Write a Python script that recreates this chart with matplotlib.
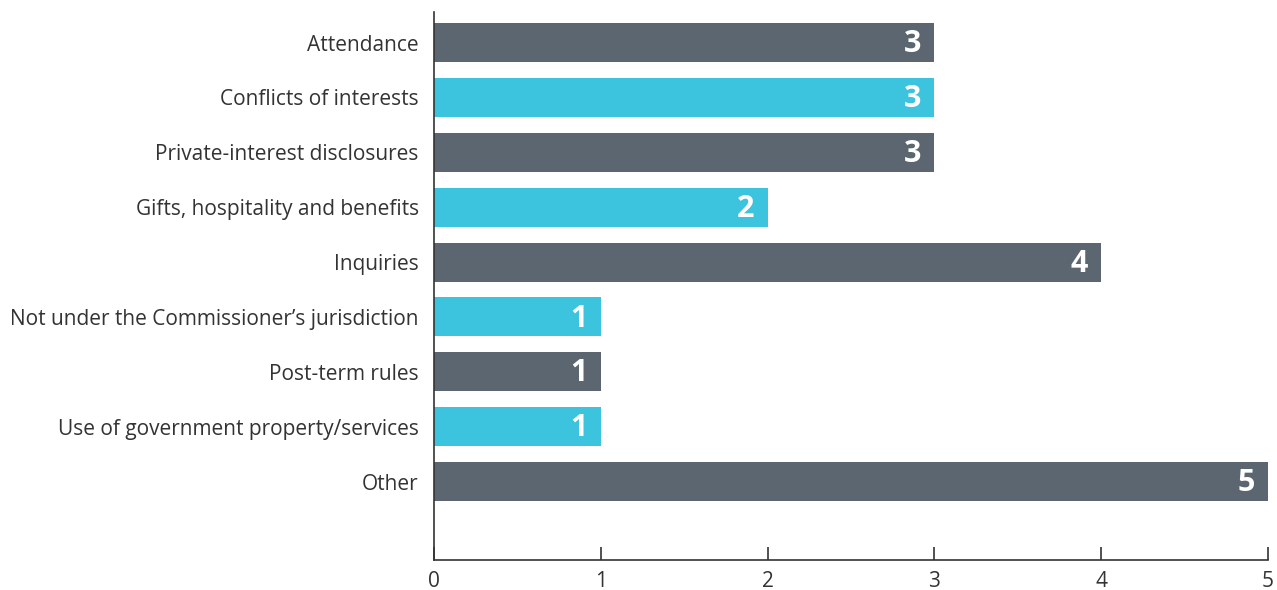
import matplotlib
matplotlib.use("Agg")
import matplotlib.pyplot as plt

categories = [
    "Attendance",
    "Conflicts of interests",
    "Private-interest disclosures",
    "Gifts, hospitality and benefits",
    "Inquiries",
    "Not under the Commissioner\u2019s jurisdiction",
    "Post-term rules",
    "Use of government property/services",
    "Other",
]
values = [3, 3, 3, 2, 4, 1, 1, 1, 5]
bar_colors = ["#5c6670", "#3cc3dd"]
x_ticks = [0, 1, 2, 3, 4, 5]

plt.rcParams["font.family"] = ["Open Sans", "DejaVu Sans"]

fig = plt.figure(figsize=(12.77, 5.90), dpi=100)
ax = fig.add_axes([434 / 1277, 30 / 590, (1268 - 434) / 1277, (560 - 12) / 590])

ypos = list(range(len(categories)))
colors = [bar_colors[i % 2] for i in ypos]
ax.barh(ypos, values, height=0.71, color=colors)

for y, v in zip(ypos, values):
    ax.text(v - 0.08, y + 0.03, str(v), ha="right", va="center", color="white",
            fontsize=22, fontweight="bold")

ax.set_xlim(0, 5)
ax.set_ylim(len(categories) - 1 + 1.43, -0.556)
ax.set_yticks(ypos)
ax.set_yticklabels(categories, fontsize=15, color="#333333")
ax.set_xticks(x_ticks)
ax.set_xticklabels([str(t) for t in x_ticks], fontsize=15, color="#333333")

ax.tick_params(axis="y", length=0, pad=11)
ax.tick_params(axis="x", direction="in", length=9.5, width=1.2, color="#333333", pad=8)
for side in ["top", "right"]:
    ax.spines[side].set_visible(False)
for side in ["left", "bottom"]:
    ax.spines[side].set_color("#333333")
    ax.spines[side].set_linewidth(1.2)

fig.savefig("out.png", dpi=100)
